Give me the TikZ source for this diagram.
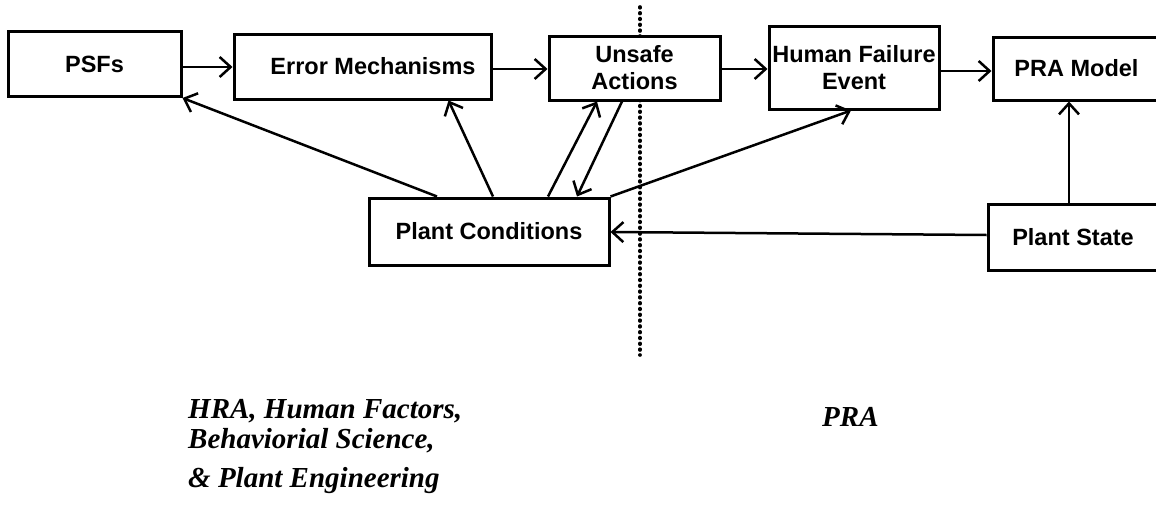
\documentclass[tikz,border=0pt]{standalone}
\usepackage{fontspec}
\setmainfont{Liberation Serif}
\setsansfont{Liberation Sans}
\usetikzlibrary{arrows.meta}
\tikzset{every picture/.style={
  >={Straight Barb[length=11pt,width=20pt]}   % Open barbed arrows.
  }
}

\begin{document}
\begin{tikzpicture}[
    x=1pt,y=-1pt,
    box/.style={
      draw,
      fill=white,
      line width=3pt,
      inner sep=0pt,
      align=center,
      font=\sffamily\bfseries\fontsize{23.5}{27}\selectfont
    },
    conn/.style={
      ->,
      line width=2.5pt
    },
    field/.style={
      anchor=base west,
      inner sep=0pt,
      font=\rmfamily\bfseries\itshape\fontsize{29}{34}\selectfont
    }]

    \useasboundingbox (0,0) rectangle (1156,506);

    % The border between the two fields.
    \coordinate (split top) at (640,7);
    \coordinate (split bottom) at (640,355);
    \draw[line width=3.6pt,line cap=round,dash pattern=on 0.8pt off 5pt]
      (split top) -- (split bottom);

    % Top row of boxes.
    \node[box,minimum width=173pt,minimum height=65pt] (psf) at (94.5,64)
      {PSFs};
    \node[box,minimum width=257pt,minimum height=65pt] (err) at (362.5,66.5)
      {\hspace*{21pt}Error Mechanisms};
    \node[box,minimum width=171pt,minimum height=64pt] (ua) at (634.5,68)
      {Unsafe\\Actions};
    \node[box,minimum width=170pt,minimum height=83pt] (hfe) at (854,67.5)
      {Human Failure\\Event};
    \node[box,minimum width=167pt,minimum height=63pt] (pra) at (1076.5,68.5)
      {PRA Model};

    % Bottom row of boxes.
    \node[box,minimum width=240pt,minimum height=67pt] (pc) at (489,231.5)
      {Plant Conditions};
    \node[box,minimum width=170pt,minimum height=66pt] (ps) at (1073,237)
      {Plant State};

    % Chain along the top row.
    \draw[conn] (psf.east |- 0,67) -- (err.west |- 0,67);
    \draw[conn] (err.east |- 0,69) -- (ua.west |- 0,69);
    \draw[conn] (ua.east |- 0,69) -- (hfe.west |- 0,69);
    \draw[conn] (hfe.east |- 0,71) -- (pra.west |- 0,71);

    % Plant conditions feed back into the top row.
    \draw[conn] ([xshift=-52pt]pc.north) -- (psf.south east);
    \draw[conn] ([xshift=4pt]pc.north) -- ([xshift=86pt]err.south);
    \draw[conn] ([xshift=59pt]pc.north) -- ([xshift=-37.5pt]ua.south);
    \draw[conn] ([xshift=-12.5pt]ua.south) -- ([xshift=88pt]pc.north);
    \draw[conn] (pc.north east) -- ([xshift=-3pt]hfe.south);

    % Plant state links.
    \draw[conn] (ps.west |- 0,235) -- (pc.east |- 0,232);
    \draw[conn] ([xshift=-4pt]ps.north) -- ([xshift=-4pt]ps.north |- pra.south);

    % Field labels.
    \node[field] (hra1) at (188,418) {HRA, Human Factors,};
    \node[field] (hra2) at (188,448) {Behaviorial Science,};
    \node[field] (hra3) at (188,487) {\& Plant Engineering};
    \node[field] (prafield) at (822,426) {PRA};
\end{tikzpicture}
\end{document}
